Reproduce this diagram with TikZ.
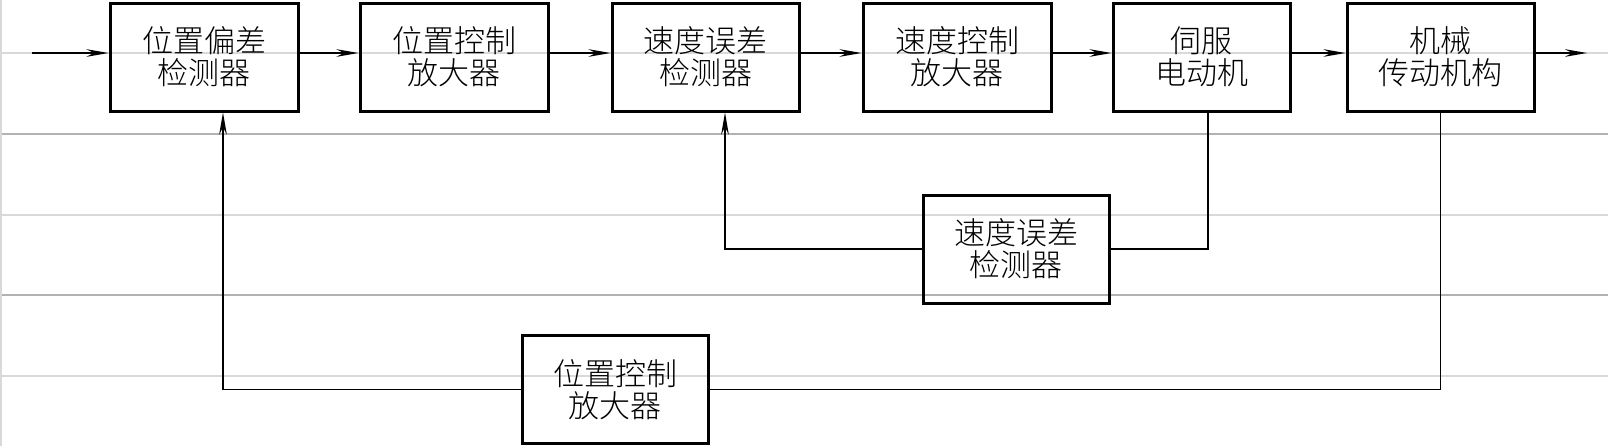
\documentclass[tikz,border=0pt]{standalone}
\usepackage{fontspec}
\newfontfamily\cjk{Noto Sans CJK SC Light}
\usetikzlibrary{arrows.meta}
\begin{document}
\begin{tikzpicture}[x=0.5pt,y=-0.5pt,
  blk/.style={draw,line width=1.5pt,minimum height=54pt,align=center,inner sep=0pt,
    font=\cjk\fontsize{15.5pt}{16pt}\selectfont},
  arr/.style={line width=0.95pt,-{Stealth[length=11pt,width=3.8pt]}},
  ln/.style={line width=0.95pt},
  rulemid/.style={line width=0.6pt,draw=black!30},
  rulelight/.style={line width=0.6pt,draw=black!15}]
\useasboundingbox (0,0) rectangle (1608,446);
% faint ruled lines of the scan
\draw[rulelight] (0,53) -- (1608,53);
\draw[rulemid] (0,134) -- (1608,134);
\draw[rulelight] (0,215) -- (1608,215);
\draw[rulemid] (0,295) -- (1608,295);
\draw[rulelight] (0,376) -- (1608,376);
\draw[rulelight] (1,0) -- (1,446);
% blocks
\node[blk,minimum width=94pt] (b1) at (204,57) {位置偏差\\检测器};
\node[blk,minimum width=94pt] (b2) at (454,57) {位置控制\\放大器};
\node[blk,minimum width=93.5pt] (b3) at (705.5,57) {速度误差\\检测器};
\node[blk,minimum width=94pt] (b4) at (957,57) {速度控制\\放大器};
\node[blk,minimum width=88.5pt] (b5) at (1201.5,57) {伺服\\电动机};
\node[blk,minimum width=93.5pt] (b6) at (1440.5,57) {机械\\传动机构};
\node[blk,minimum width=93pt] (b7) at (1016,249) {速度误差\\检测器};
\node[blk,minimum width=93pt] (b8) at (615,389.5) {位置控制\\放大器};
\coordinate (in) at (32,53);
\coordinate (out) at (1587,53);
% forward path
\draw[arr] (in) -- ([yshift=2pt]b1.west);
\draw[arr] ([yshift=2pt]b1.east) -- ([yshift=2pt]b2.west);
\draw[arr] ([yshift=2pt]b2.east) -- ([yshift=2pt]b3.west);
\draw[arr] ([yshift=2pt]b3.east) -- ([yshift=2pt]b4.west);
\draw[arr] ([yshift=2pt]b4.east) -- ([yshift=2pt]b5.west);
\draw[arr] ([yshift=2pt]b5.east) -- ([yshift=2pt]b6.west);
\draw[arr] ([yshift=2pt]b6.east) -- (out);
% speed feedback
\draw[ln] ([xshift=3.25pt]b5.south) |- (b7.east);
\draw[arr] (b7.west) -| ([xshift=9.75pt]b3.south);
% position feedback
\draw[ln] (b6.south) |- (b8.east);
\draw[arr] (b8.west) -| ([xshift=9.5pt]b1.south);
\end{tikzpicture}
\end{document}
